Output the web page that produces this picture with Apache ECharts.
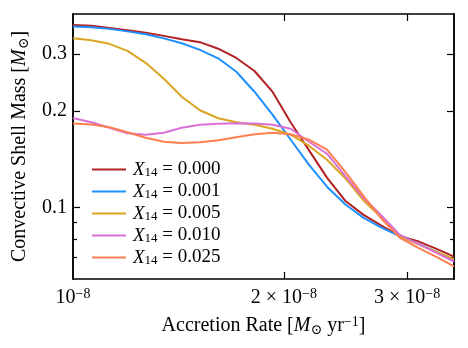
<!DOCTYPE html>
<html lang="en">
<head>
<meta charset="UTF-8">
<title>Convective Shell Mass</title>
<script src="https://cdn.jsdelivr.net/npm/echarts@6/dist/echarts.min.js"></script>
<style>
  html, body { margin: 0; padding: 0; background: #fff; }
  #chart { width: 468px; height: 348px; }
</style>
</head>
<body>
<div id="chart"></div>
<script>
// accretion rate, in units of 1e-8 Msun/yr
var rate = [1.000, 1.062, 1.127, 1.196, 1.270, 1.348, 1.430, 1.518, 1.612, 1.711, 1.816,
            1.928, 2.046, 2.172, 2.305, 2.447, 2.597, 2.757, 2.927, 3.107, 3.298, 3.500];
// convective shell mass (Msun), one list per X14
var m000 = [0.370, 0.368, 0.362, 0.356, 0.350, 0.342, 0.334, 0.327, 0.312, 0.292, 0.266,
            0.229, 0.184, 0.151, 0.124, 0.1051, 0.0951, 0.0879, 0.0816, 0.0787, 0.0746, 0.0704];
var m001 = [0.366, 0.3636, 0.3596, 0.3532, 0.3458, 0.336, 0.3243, 0.3095, 0.2913, 0.2645, 0.2293,
            0.1944, 0.1626, 0.136, 0.1162, 0.1025, 0.0931, 0.0867, 0.0815, 0.0773, 0.0730, 0.0687];
var m005 = [0.3365, 0.3313, 0.3231, 0.3073, 0.282, 0.2516, 0.2212, 0.2008, 0.1897, 0.1843, 0.181,
            0.1759, 0.1685, 0.1558, 0.1409, 0.1235, 0.1055, 0.0931, 0.0813, 0.077, 0.073, 0.0692];
var m010 = [0.190, 0.1843, 0.1772, 0.1704, 0.1685, 0.171, 0.1772, 0.181, 0.1823, 0.1829, 0.1827,
            0.181, 0.1759, 0.1603, 0.1471, 0.1255, 0.1074, 0.0945, 0.0824, 0.0773, 0.0725, 0.068];
var m025 = [0.1827, 0.1813, 0.1778, 0.1716, 0.165, 0.1603, 0.1588, 0.1597, 0.162, 0.1655, 0.1691,
            0.171, 0.1691, 0.1626, 0.1514, 0.1294, 0.109, 0.0924, 0.0807, 0.0751, 0.0704, 0.0657];
var names = ['0.000', '0.001', '0.005', '0.010', '0.025'];
var colors = ['#b22222', '#1e90ff', '#daa520', '#da70d6', '#ff7f50'];
var xTicks = [2, 3];
var xLabels = [1, 2, 3];
var yMajor = [0.1, 0.2, 0.3];
var yMinor = [0.07, 0.08, 0.09];

var FONT = '"Liberation Serif", "DejaVu Serif", serif';
function richSet(fs, lh) {
    var small = Math.round(fs * 0.7);
    return {
        n: { fontFamily: FONT, fontSize: fs, color: '#000', lineHeight: lh },
        i: { fontFamily: FONT, fontSize: fs, fontStyle: 'italic', color: '#000', lineHeight: lh },
        sup: { fontFamily: FONT, fontSize: small, color: '#000', verticalAlign: 'top', lineHeight: lh },
        sub: { fontFamily: FONT, fontSize: small, color: '#000', verticalAlign: 'bottom', lineHeight: lh - 2 }
    };
}
var rich = richSet(20, 22);
var legendRich = richSet(19, 20);

var chart = echarts.init(document.getElementById('chart'));

function pairs(ys) {
    return rate.map(function (x, i) { return [x, ys[i]]; });
}

function frameX(pos, show, ticks, len) {
    return {
        type: 'log', position: pos, min: 1, max: 3.5,
        axisLine: { show: true, lineStyle: { color: '#000', width: 1.5 } },
        axisTick: { show: true, inside: true, length: len, customValues: ticks, lineStyle: { color: '#000', width: 1.2 } },
        axisLabel: { show: show },
        splitLine: { show: false }, minorTick: { show: false }
    };
}
function frameY(pos, ticks, len) {
    return {
        type: 'log', position: pos, min: 0.06, max: 0.4,
        axisLine: { show: true, lineStyle: { color: '#000', width: 1.5 } },
        axisTick: { show: true, inside: true, length: len, customValues: ticks, lineStyle: { color: '#000', width: 1.2 } },
        axisLabel: { show: false },
        splitLine: { show: false }
    };
}

var xMain = frameX('bottom', true, xTicks, 7);
xMain.axisLabel = {
    show: true, margin: 8, customValues: xLabels, rich: rich,
    formatter: function (v) {
        var k = Math.round(v);
        return (k === 1 ? '' : '{n|' + k + ' × }') + '{n|10}{sup|−8}';
    }
};
xMain.name = '{n|Accretion Rate [}{i|M}{sub|⊙}{n| yr}{sup|−1}{n|]}';
xMain.nameLocation = 'middle';
xMain.nameGap = 36;
xMain.nameTextStyle = { rich: rich };

var yMain = frameY('left', yMajor, 7);
yMain.axisLabel = {
    show: true, margin: 6, customValues: yMajor, rich: rich,
    formatter: function (v) { return '{n|' + v.toFixed(1) + '}'; }
};
yMain.name = '{n|Convective Shell Mass [}{i|M}{sub|⊙}{n|]}';
yMain.nameLocation = 'middle';
yMain.nameRotate = 90;
yMain.nameGap = 42;
yMain.nameTextStyle = { rich: rich };

var allY = [m000, m001, m005, m010, m025];

var option = {
    animation: false,
    backgroundColor: '#fff',
    grid: { left: 73, right: 14, top: 14, bottom: 69, containLabel: false },
    xAxis: [xMain, frameX('top', false, xTicks, 7)],
    yAxis: [yMain, frameY('left', yMinor, 4), frameY('right', yMajor, 7), frameY('right', yMinor, 4)],
    legend: {
        orient: 'vertical', left: 87, top: 155,
        itemWidth: 34, itemHeight: 2, itemGap: 2.5,
        icon: 'rect',
        data: names,
        textStyle: { rich: legendRich, padding: [0, 0, 0, 2] },
        formatter: function (name) { return '{i|X}{sub|14}{n| = ' + name + '}'; }
    },
    series: names.map(function (nm, k) {
        return {
            name: nm, type: 'line', xAxisIndex: 0, yAxisIndex: 0,
            data: pairs(allY[k]),
            showSymbol: false, symbol: 'none',
            lineStyle: { color: colors[k], width: 2 },
            itemStyle: { color: colors[k] }
        };
    })
};
chart.setOption(option);
</script>
</body>
</html>
